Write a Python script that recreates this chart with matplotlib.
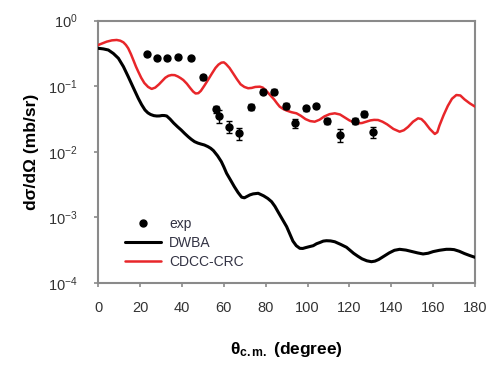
import numpy as np
import matplotlib
matplotlib.use("Agg")
import matplotlib.pyplot as plt

plt.rcParams['font.family'] = ['Liberation Sans', 'DejaVu Sans']
plt.rcParams['mathtext.fontset'] = 'custom'
plt.rcParams['mathtext.rm'] = 'Liberation Sans'
plt.rcParams['mathtext.bf'] = 'Liberation Sans:bold'
plt.rcParams['mathtext.it'] = 'Liberation Sans:italic'

# experimental data
exp_theta = [23.1, 27.9, 33.0, 38.2, 44.1, 50.1, 56.2, 57.8, 62.6, 67.3, 73.1,
             78.5, 83.9, 89.6, 93.9, 99.2, 104.2, 109.3, 115.7, 122.5, 126.8, 131.3]
exp_val = [0.307, 0.267, 0.267, 0.283, 0.267, 0.137, 0.0446, 0.0353, 0.0242, 0.0192, 0.0479,
           0.0828, 0.0828, 0.050, 0.0273, 0.0462, 0.050, 0.0299, 0.0181, 0.0299, 0.0378, 0.0203]
exp_err = [0.02, 0.015, 0.015, 0.015, 0.015, 0.012, 0.006, 0.008, 0.005, 0.004, 0.005,
           0.007, 0.007, 0.005, 0.004, 0.004, 0.004, 0.003, 0.004, 0.003, 0.004, 0.004]

# CDCC-CRC (log10 of cross-section)
cdcc_theta = [0, 2, 4, 6.5, 8.8, 10.5, 12, 13.2, 14.3, 15.6, 17, 18, 19.1, 20.5, 22, 23.8,
              25.5, 27.2, 29, 30.5, 32, 33.5, 35, 36.5, 38, 39.3, 40.6, 42.3, 44, 45.3, 46.5,
              47.8, 49, 50.7, 52.4, 54.2, 56, 57.4, 58.8, 60, 61, 62.7, 64.4, 66.2, 68, 69.8,
              71.6, 73.3, 75, 77.2, 78.6, 80, 82, 84, 85.4, 86.7, 88.3, 90, 92.3, 94.7, 96.8,
              99, 101.2, 103.4, 105.7, 108, 110.5, 113, 115.5, 118, 120, 122, 124, 126, 128,
              130, 131.8, 133.7, 135.8, 138, 141, 144, 146, 148, 150.4, 152.8, 154.4, 156,
              158.4, 160.8, 162, 163, 165, 167, 169, 171.1, 173, 175, 177.5, 180]
cdcc_log = [-0.370, -0.345, -0.32, -0.30, -0.294, -0.305, -0.33, -0.37, -0.421, -0.51, -0.62,
            -0.70, -0.777, -0.87, -0.95, -1.01, -1.04, -1.02, -0.97, -0.92, -0.87, -0.84,
            -0.828, -0.83, -0.85, -0.875, -0.904, -0.96, -1.03, -1.08, -1.11, -1.105, -1.07,
            -0.99, -0.904, -0.81, -0.72, -0.67, -0.64, -0.635, -0.66, -0.72, -0.802, -0.89,
            -0.97, -1.01, -1.03, -1.025, -1.01, -1.006, -1.02, -1.06, -1.13, -1.20, -1.26,
            -1.311, -1.345, -1.37, -1.395, -1.412, -1.45, -1.50, -1.53, -1.54, -1.51, -1.46,
            -1.425, -1.412, -1.43, -1.48, -1.52, -1.55, -1.565, -1.56, -1.54, -1.52, -1.512,
            -1.514, -1.54, -1.58, -1.65, -1.692, -1.67, -1.62, -1.54, -1.488, -1.50, -1.55,
            -1.65, -1.727, -1.70, -1.6, -1.44, -1.30, -1.19, -1.133, -1.14, -1.20, -1.26, -1.31]

# DWBA (log10 of cross-section)
dwba_theta = [0, 2.4, 4.8, 7.2, 9.6, 12, 14.3, 17, 19.1, 20.7, 22.3, 23.7, 25, 26.5, 27.9,
              29.2, 30.5, 31.6, 32.7, 34.3, 36, 37.8, 39.6, 41.3, 43, 44.5, 46, 47.5, 49,
              50.7, 52.4, 53.7, 55, 57, 58.8, 60, 61.3, 63.2, 65, 66.8, 68.5, 69.8, 71, 72.5,
              74, 76.4, 79, 81, 82.8, 84.4, 86, 88, 90, 91.5, 93, 94.6, 96.3, 97.7, 99, 100.8,
              102.7, 104.3, 106, 107.5, 109, 111, 113, 115.8, 118.6, 120.3, 122, 124, 126, 128.3,
              130.5, 132.2, 134, 136.5, 139, 141.5, 144, 147, 150, 152.6, 155.2, 157.6, 160,
              163, 166.3, 168.2, 170, 172.5, 175, 177.5, 180]
dwba_log = [-0.421, -0.43, -0.447, -0.50, -0.573, -0.70, -0.853, -1.04, -1.183, -1.28, -1.361,
            -1.405, -1.43, -1.447, -1.453, -1.452, -1.445, -1.446, -1.453, -1.50, -1.56, -1.615,
            -1.666, -1.72, -1.77, -1.81, -1.844, -1.865, -1.88, -1.895, -1.92, -1.945, -1.98,
            -2.06, -2.149, -2.23, -2.326, -2.43, -2.53, -2.62, -2.69, -2.70, -2.68, -2.655,
            -2.64, -2.631, -2.67, -2.71, -2.759, -2.83, -2.92, -3.03, -3.14, -3.25, -3.36,
            -3.43, -3.47, -3.472, -3.46, -3.445, -3.43, -3.40, -3.38, -3.36, -3.354, -3.357,
            -3.37, -3.41, -3.454, -3.50, -3.546, -3.59, -3.63, -3.66, -3.674, -3.665, -3.64,
            -3.59, -3.54, -3.50, -3.485, -3.497, -3.52, -3.54, -3.556, -3.545, -3.52, -3.50,
            -3.485, -3.485, -3.49, -3.515, -3.55, -3.58, -3.607]

xticks = [0, 20, 40, 60, 80, 100, 120, 140, 160, 180]

fig = plt.figure(figsize=(4.91, 3.72), dpi=100)
ax = fig.add_axes([0.2002, 0.239, 0.7672, 0.7054])

ax.errorbar(exp_theta, exp_val, yerr=exp_err, fmt='none', ecolor='black',
            elinewidth=1.0, capsize=2.5, capthick=1.0, zorder=4)
ax.plot(exp_theta, exp_val, 'o', color='black', ms=5, ls='none', label='exp', zorder=5)
ax.plot(dwba_theta, 10 ** np.array(dwba_log), color='black', lw=2.2, label='DWBA', zorder=3,
        solid_joinstyle='round', solid_capstyle='round')
ax.plot(cdcc_theta, 10 ** np.array(cdcc_log), color='#e8262a', lw=1.8, label='CDCC-CRC', zorder=3,
        solid_joinstyle='round', solid_capstyle='round')

ax.set_yscale('log')
ax.set_xlim(0, 180)
ax.set_ylim(1e-4, 1)
ax.set_xticks(xticks)
ax.set_yticks([1e-4, 1e-3, 1e-2, 1e-1, 1])
ax.minorticks_off()

for s in ax.spines.values():
    s.set_color('#8a8a8a')
    s.set_linewidth(1.5)
ax.tick_params(axis='both', direction='out', length=3, width=1.2, color='#8a8a8a',
               labelsize=10.5, labelcolor='#333333', pad=10)
ax.tick_params(axis='y', pad=12)

ax.set_xlabel(r'$\mathbf{\theta_{c.m.}}$ (degree)', fontsize=12.5, fontweight='bold', labelpad=18)
ax.set_ylabel('dσ/dΩ (mb/sr)', fontsize=12.5, fontweight='bold', labelpad=6)

leg = ax.legend(loc='lower left', bbox_to_anchor=(0.07, 0.055), frameon=False, fontsize=10,
                handlelength=2.6, handletextpad=0.6, labelspacing=0.35, borderpad=0,
                borderaxespad=0)
for t in leg.get_texts():
    t.set_color('#333344')

fig.savefig('out.png', dpi=100)
